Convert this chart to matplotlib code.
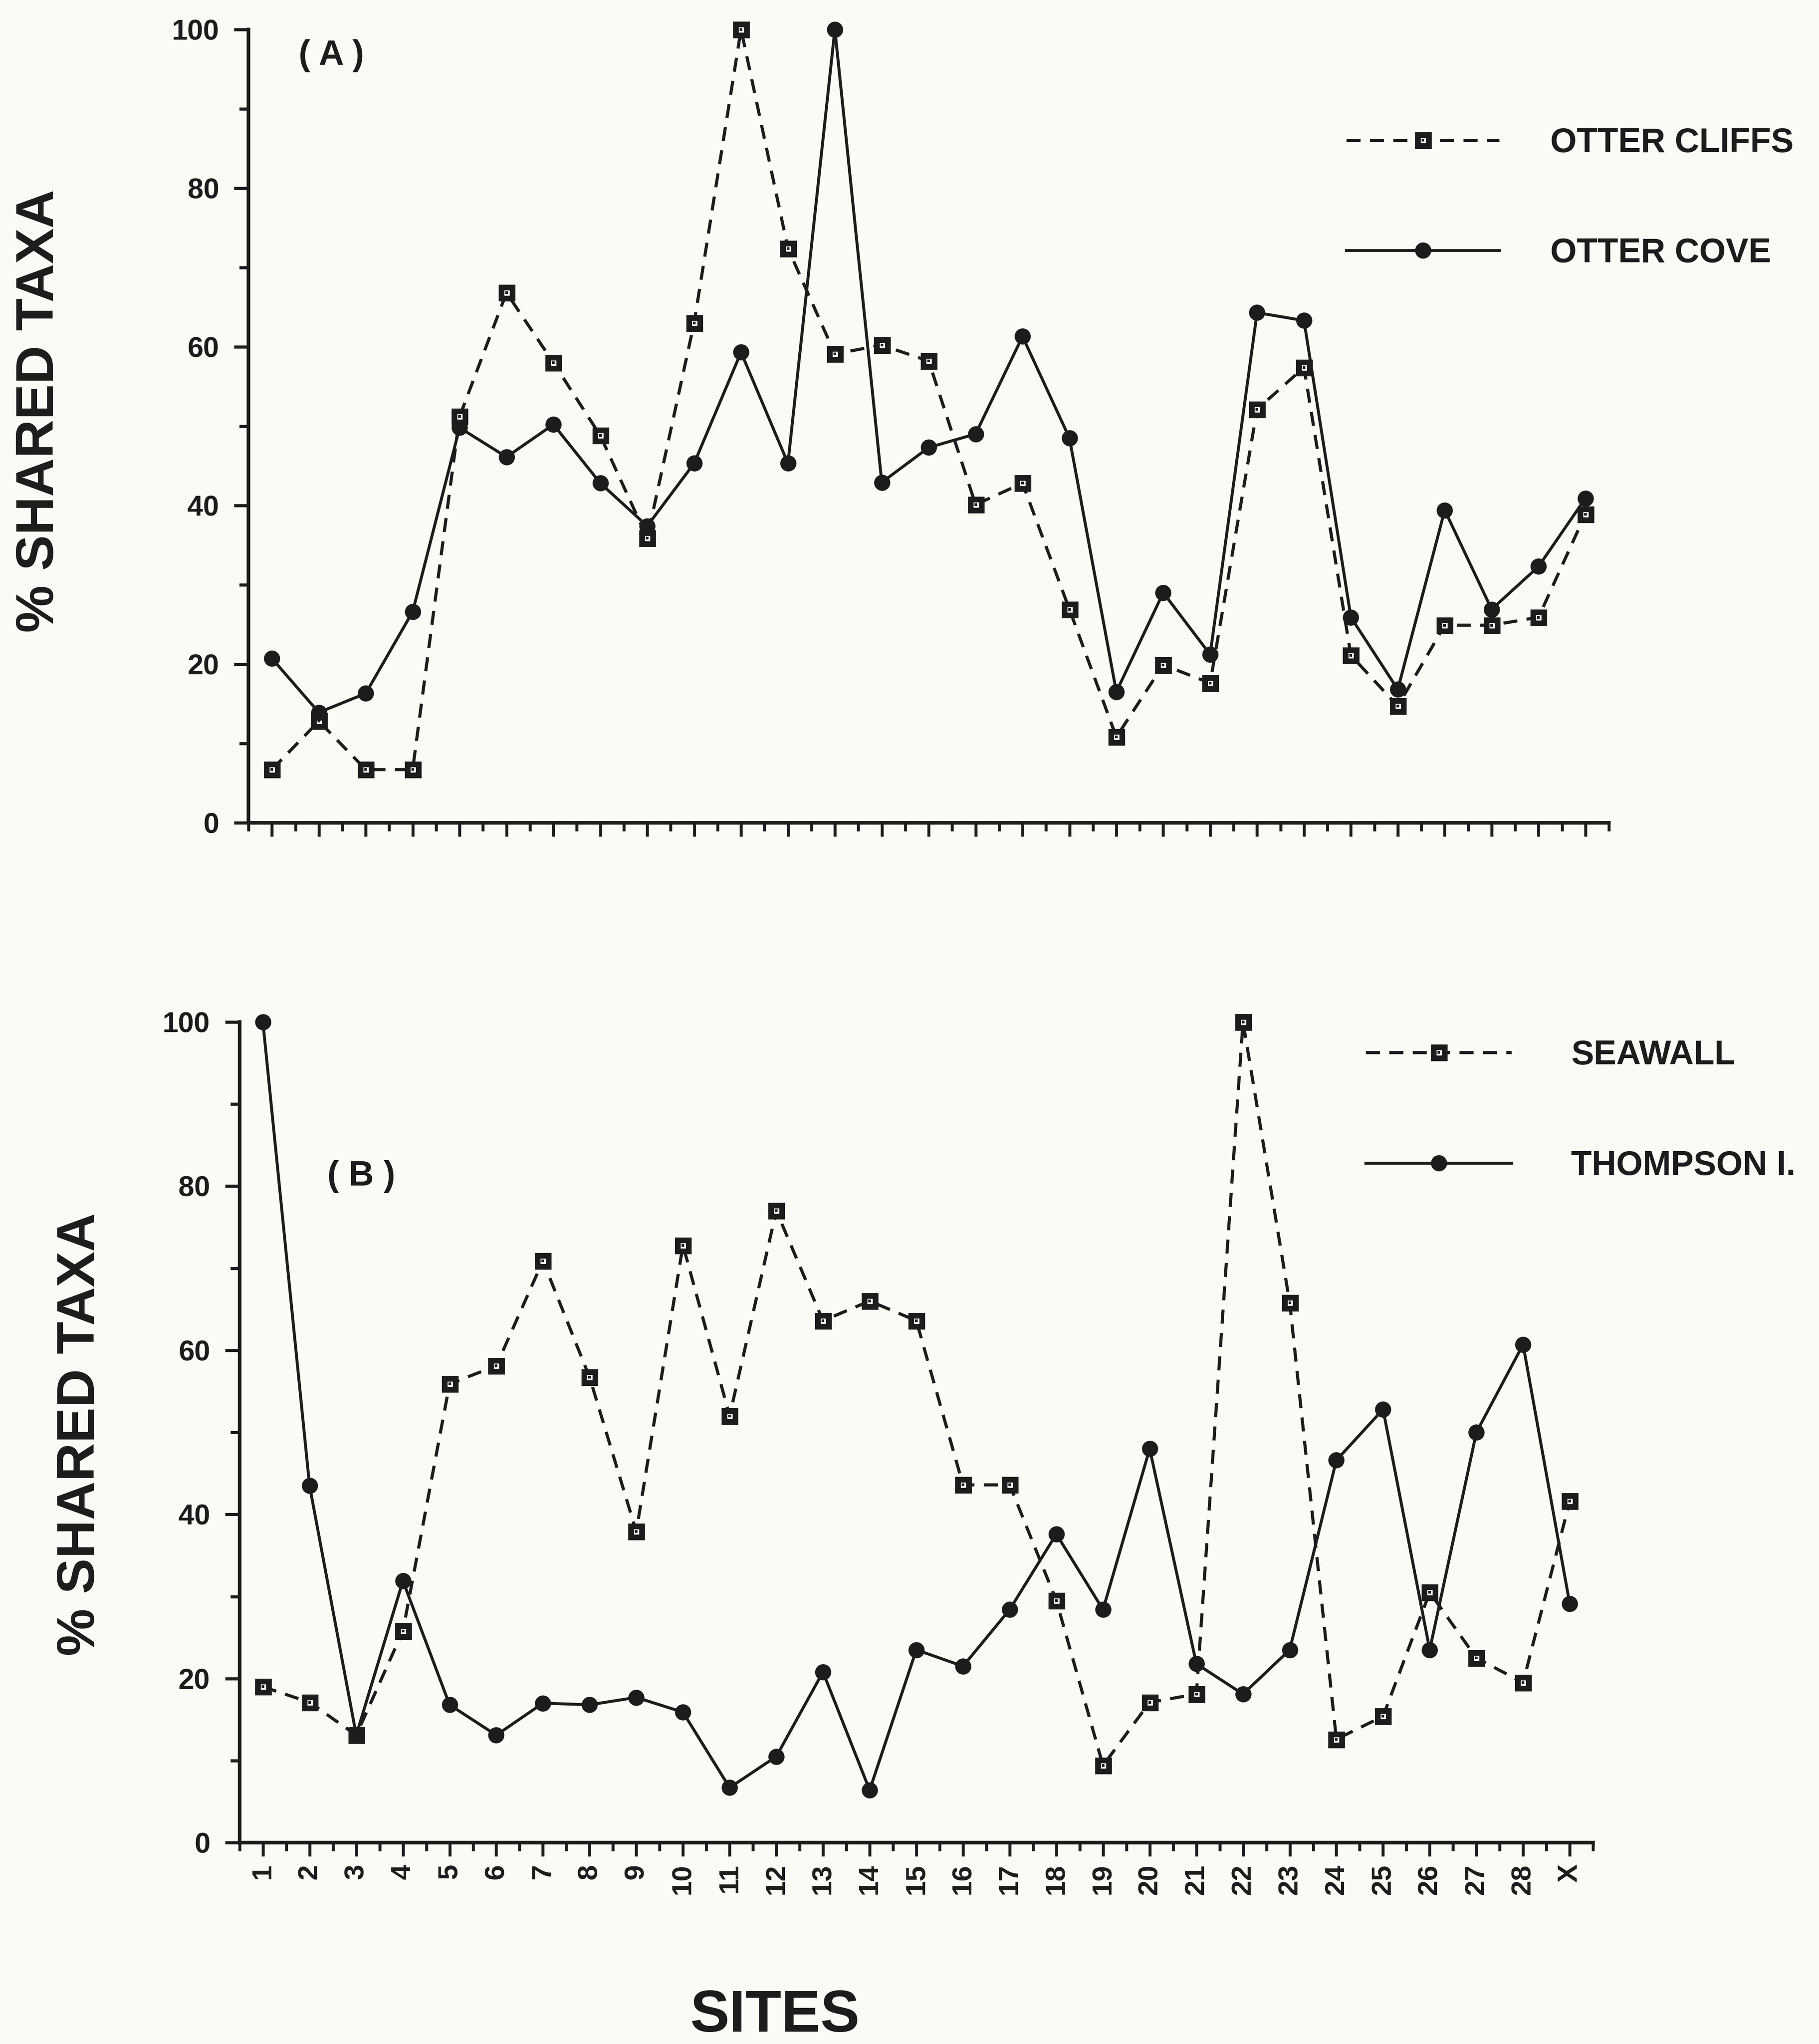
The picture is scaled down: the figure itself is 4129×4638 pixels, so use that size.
import matplotlib
matplotlib.use("Agg")
import matplotlib.pyplot as plt
from matplotlib.ticker import MultipleLocator
from matplotlib.legend_handler import HandlerTuple

# ---- data: % shared taxa per site ----
sites = ["1", "2", "3", "4", "5", "6", "7", "8", "9", "10", "11", "12", "13", "14",
         "15", "16", "17", "18", "19", "20", "21", "22", "23", "24", "25", "26",
         "27", "28", "X"]

otter_cliffs = [6.7, 12.8, 6.7, 6.7, 51.2, 66.8, 58.0, 48.8, 35.9, 63.0, 100.0, 72.4,
                59.1, 60.2, 58.2, 40.1, 42.8, 26.9, 10.8, 19.9, 17.6, 52.1, 57.4,
                21.1, 14.7, 24.9, 24.9, 25.9, 38.9]
otter_cove = [20.7, 13.9, 16.3, 26.6, 49.8, 46.1, 50.2, 42.8, 37.4, 45.3, 59.3, 45.3,
              100.0, 42.9, 47.3, 49.0, 61.3, 48.5, 16.5, 29.0, 21.2, 64.3, 63.3,
              25.9, 16.8, 39.4, 26.9, 32.3, 40.9]

seawall = [19.0, 17.1, 13.1, 25.8, 55.9, 58.1, 70.9, 56.7, 37.9, 72.8, 52.0, 77.0,
           63.6, 66.0, 63.6, 43.6, 43.6, 29.5, 9.4, 17.1, 18.1, 100.0, 65.8, 12.6,
           15.4, 30.5, 22.5, 19.5, 41.6]
thompson = [100.0, 43.5, 13.1, 31.9, 16.8, 13.1, 17.0, 16.8, 17.7, 15.9, 6.7, 10.5,
            20.8, 6.4, 23.5, 21.5, 28.4, 37.6, 28.4, 48.0, 21.8, 18.1, 23.5, 46.6,
            52.8, 23.5, 50.0, 60.7, 29.1]

plt.rcParams['font.family'] = ['Liberation Sans', 'DejaVu Sans']
plt.rcParams['font.weight'] = 'bold'

INK = '#1c1c1c'
BG = '#fbfbf6'

fig = plt.figure(figsize=(4129 / 300, 4638 / 300), dpi=300, facecolor=BG)
axA = fig.add_axes([0.1366, 0.5975, 0.8845 - 0.1366, 0.9856 - 0.5975])
axB = fig.add_axes([0.1317, 0.0985, 0.8758 - 0.1317, 0.5000 - 0.0985])

x = list(range(1, len(sites) + 1))


def style_axes(ax, show_xlabels):
    ax.set_facecolor(BG)
    ax.set_xlim(0.5, len(sites) + 0.5)
    ax.set_ylim(0, 100)
    for s in ('top', 'right'):
        ax.spines[s].set_visible(False)
    for s in ('left', 'bottom'):
        ax.spines[s].set_linewidth(2.0)
        ax.spines[s].set_color(INK)
    ax.set_xticks(x)
    ax.set_xticks([i + 0.5 for i in range(len(sites) + 1)], minor=True)
    ax.set_yticks(range(0, 101, 20))
    ax.yaxis.set_minor_locator(MultipleLocator(10))
    ax.tick_params(axis='x', which='major', direction='out', length=7.5, width=1.6,
                   color=INK, pad=4)
    ax.tick_params(axis='x', which='minor', direction='out', length=4.5, width=1.6,
                   color=INK)
    ax.tick_params(axis='y', which='major', direction='out', length=8, width=1.7,
                   color=INK, pad=8, labelsize=15.5, labelcolor=INK)
    ax.tick_params(axis='y', which='minor', direction='out', length=5, width=1.7,
                   color=INK)
    if show_xlabels:
        ax.set_xticklabels(sites, rotation=90, fontsize=15, fontweight='bold',
                           color=INK)
    else:
        ax.tick_params(axis='x', labelbottom=False)


def draw_pair(ax, dashed_vals, solid_vals):
    dash_line, = ax.plot(x, dashed_vals, color=INK, lw=1.7, linestyle=(0, (4.5, 3)),
                         marker='s', ms=6.0, mew=3.1, mfc=BG, mec=INK, clip_on=False,
                         zorder=3)
    dash_dot, = ax.plot(x, dashed_vals, linestyle='none', marker='s', ms=1.4, mew=0,
                        mfc=INK, clip_on=False, zorder=4)
    solid_line, = ax.plot(x, solid_vals, color=INK, lw=1.6, linestyle='-',
                          marker='o', ms=7.8, mfc=INK, mec=INK, clip_on=False,
                          zorder=3)
    return (dash_line, dash_dot), solid_line


style_axes(axA, False)
style_axes(axB, True)

hA = draw_pair(axA, otter_cliffs, otter_cove)
hB = draw_pair(axB, seawall, thompson)

legA = axA.legend([hA[0], hA[1]], ["OTTER CLIFFS", "OTTER COVE"],
                  handler_map={tuple: HandlerTuple(ndivide=1)},
                  loc='center left', bbox_to_anchor=(0.807, 0.7875),
                  frameon=False, fontsize=18.5, numpoints=1, handlelength=4.5,
                  handletextpad=1.5, labelspacing=2.3, borderpad=0, borderaxespad=0)
legB = axB.legend([hB[0], hB[1]], ["SEAWALL", "THOMPSON I."],
                  handler_map={tuple: HandlerTuple(ndivide=1)},
                  loc='center left', bbox_to_anchor=(0.832, 0.892),
                  frameon=False, fontsize=18.5, numpoints=1, handlelength=4.3,
                  handletextpad=1.75, labelspacing=2.3, borderpad=0, borderaxespad=0)
for leg in (legA, legB):
    for t in leg.get_texts():
        t.set_color(INK)

axA.text(0.061, 0.967, "( A )", transform=axA.transAxes, ha='center', va='center',
         fontsize=19, color=INK)
axB.text(0.0898, 0.812, "( B )", transform=axB.transAxes, ha='center', va='center',
         fontsize=19, color=INK)

fig.text(0.0216, 0.799, "% SHARED TAXA", rotation=90, ha='center', va='center',
         fontsize=29, color=INK)
fig.text(0.0443, 0.2984, "% SHARED TAXA", rotation=90, ha='center', va='center',
         fontsize=29, color=INK)
fig.text(0.426, 0.0134, "SITES", ha='center', va='center', fontsize=32, color=INK)

fig.savefig("out.png", dpi=300, facecolor=BG)
